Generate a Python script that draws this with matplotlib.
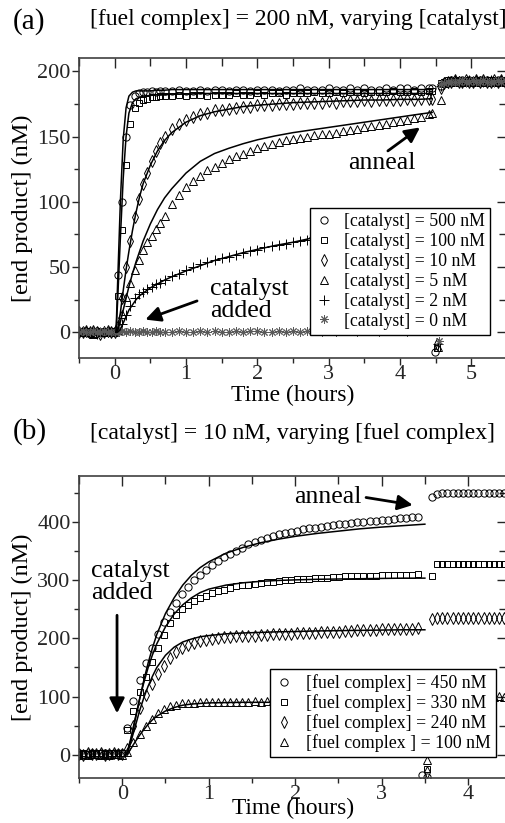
import matplotlib
matplotlib.use("Agg")
import matplotlib.pyplot as plt
from matplotlib.ticker import MultipleLocator, NullFormatter

plt.rcParams['font.family'] = ['Liberation Serif', 'DejaVu Serif']

# ---------------- panel (a): [fuel complex] = 200 nM ----------------
t_a = [-0.5, -0.45, -0.4, -0.35, -0.3, -0.25, -0.2, -0.15, -0.1, -0.05, 0.0,
       0.04, 0.1, 0.16, 0.22, 0.28, 0.34, 0.4, 0.46, 0.52, 0.58, 0.64, 0.7,
       0.8, 0.9, 1.0, 1.1, 1.2, 1.3, 1.4, 1.5, 1.6, 1.7, 1.8, 1.9, 2.0, 2.1, 2.2,
       2.3, 2.4, 2.5, 2.6, 2.7, 2.8, 2.9, 3.0, 3.1, 3.2, 3.3, 3.4, 3.5, 3.6, 3.7,
       3.8, 3.9, 4.0, 4.1, 4.2, 4.3, 4.4, 4.45]

cat500 = [0, 1, 0, -1, 0, 1, 0, 0, 1, 0, 1,
          44, 100, 150, 174, 181, 183, 184, 184, 185, 184, 185, 185,
          185, 186, 185, 185, 186, 185, 186, 186, 185, 186, 186, 185, 186, 186, 186,
          185, 186, 186, 187, 186, 186, 186, 187, 186, 186, 187, 186, 187, 186, 186,
          187, 186, 187, 187, 186, 187, 187, 187]
cat100 = [1, 0, 0, 1, -1, 0, 1, 0, 0, 1, 0,
          28, 78, 128, 160, 172, 176, 178, 179, 180, 180, 181, 181,
          181, 182, 181, 182, 182, 181, 182, 182, 182, 183, 182, 182, 183, 182, 183,
          183, 182, 183, 183, 183, 184, 183, 183, 184, 183, 184, 184, 183, 184, 184,
          184, 185, 184, 184, 185, 184, 185, 185]
cat10 = [0, 0, 1, 0, 1, 0, -1, 0, 1, 0, 0,
         5, 26, 50, 70, 88, 102, 114, 122, 131, 139, 145, 150,
         156, 160, 163, 165, 167, 168, 170, 170, 171, 172, 173, 173, 174, 174, 174,
         175, 175, 175, 176, 176, 176, 176, 177, 176, 177, 177, 177, 178, 177, 178,
         178, 178, 178, 179, 178, 179, 179, 179]
cat5 = [0, 1, 0, 0, -1, 1, 0, 0, 0, 1, 0,
        2, 14, 27, 38, 48, 55, 63, 69, 74, 79, 84, 89,
        98, 105, 111, 116, 120, 124, 127, 130, 133, 135, 137, 139, 141, 143, 144,
        146, 147, 148, 149, 150, 151, 152, 152, 153, 154, 155, 156, 157, 158, 159,
        160, 161, 162, 163, 164, 165, 167, 168]
cat2 = [0, 0, 1, 0, 0, -1, 0, 1, 0, 0, 1,
        1, 6, 13, 20, 26, 29, 31, 33, 35, 37, 38, 40,
        43, 45, 48, 50, 52, 54, 55, 57, 58, 59, 61, 62, 63, 65, 66,
        67, 68, 69, 70, 71, 73, 74, 75, 76, 76, 77, 78, 79, 80, 80,
        81, 82, 82, 83, 84, 84, 85, 85]
cat0 = [0, 1, 0, 0, 1, 0, 0, 1, 0, 0, 0,
        0, 1, 0, 1, 0, 0, 1, 0, 0, 1, 0, 0,
        0, 1, 0, 0, 1, 0, 1, 0, 0, 1, 0, 1, 1, 0, 0,
        1, 0, 1, 0, 1, 1, 0, 1, 0, 1, 1, 0, 1, 1, 0,
        1, 1, 1, 0, 1, 1, 1, 1]

# points recorded during the anneal (off scale) and after the anneal
gap_t_a = [4.49, 4.52, 4.52, 4.53, 4.53, 4.54]
gap_y_a = [-15, -12, -9, -11, -9, -7]
post_t_a = [4.57, 4.62, 4.67, 4.72, 4.77, 4.82, 4.87, 4.92, 4.97, 5.02,
            5.07, 5.12, 5.17, 5.22, 5.27, 5.32, 5.37, 5.42, 5.47]
post500 = [189, 192, 192, 193, 192, 192, 193, 192, 193, 192, 192, 193, 192, 193, 192, 192, 193, 192, 192]
post100 = [191, 192, 193, 192, 192, 193, 192, 192, 193, 192, 193, 192, 192, 193, 192, 193, 192, 192, 193]
post10 = [187, 191, 192, 192, 193, 192, 192, 193, 192, 192, 193, 192, 193, 192, 192, 193, 192, 193, 192]
post5 = [178, 191, 192, 192, 192, 193, 192, 192, 193, 192, 192, 192, 193, 192, 193, 192, 192, 193, 192]
post2 = [189, 192, 191, 192, 193, 192, 192, 192, 193, 192, 193, 192, 192, 192, 193, 192, 192, 193, 192]
post0 = [190, 191, 192, 192, 192, 192, 193, 192, 192, 193, 192, 192, 193, 192, 192, 192, 193, 192, 193]

# model fits
fit_t_a = [0.02, 0.04, 0.08, 0.12, 0.16, 0.2, 0.25, 0.3, 0.35, 0.4, 0.5, 0.6, 0.7, 0.8,
           1.0, 1.2, 1.4, 1.6, 1.8, 2.0, 2.25, 2.5, 2.75, 3.0, 3.25, 3.5, 3.75, 4.0, 4.25, 4.45]
fit500 = [0, 35, 100, 148, 172, 181, 184, 185, 185, 185, 185, 185.5, 185.5, 186,
          186, 186, 186, 186, 186, 186, 186, 186, 186, 186, 186, 186, 186, 186, 186, 186]
fit100 = [0, 22, 72, 118, 150, 168, 176, 179, 180, 181, 181.5, 182, 182, 182.5,
          182.5, 183, 183, 183, 183, 183, 183, 183, 183, 183, 183, 183, 183, 183, 183, 183]
fit10 = [0, 2, 15, 32, 48, 62, 78, 92, 104, 114, 128, 139, 147, 153,
         161, 166, 169, 171, 173, 174, 175, 176, 176.5, 177, 177.5, 178, 178, 178.5, 178.5, 179]
fit5 = [0, 1, 8, 17, 26, 35, 45, 54, 62, 70, 83, 94, 103, 110,
        122, 131, 137, 141, 144.5, 147.5, 150.5, 153, 155, 157, 159, 161, 163, 165, 167, 168.5]
fit2 = [0, 0, 2, 7, 12, 17, 21, 25, 28, 30, 34, 37, 40, 42.5,
        47, 51, 55, 58, 61, 63.5, 66.5, 69, 72, 74.5, 77, 79, 81, 83, 84.5, 86]

labels_a = ["[catalyst] = 500 nM", "[catalyst] = 100 nM", "[catalyst] = 10 nM",
            "[catalyst] = 5 nM", "[catalyst] = 2 nM", "[catalyst] = 0 nM"]

# ---------------- panel (b): [catalyst] = 10 nM ----------------
t_b = [-0.5, -0.45, -0.4, -0.35, -0.3, -0.25, -0.2, -0.15, -0.1, -0.05, 0.0,
       0.06, 0.13, 0.2, 0.27, 0.34, 0.41, 0.48, 0.55, 0.62, 0.69, 0.76, 0.83, 0.9,
       0.97, 1.04, 1.11, 1.18, 1.25, 1.32, 1.39, 1.46, 1.53, 1.6, 1.67, 1.74, 1.81,
       1.88, 1.95, 2.02, 2.09, 2.16, 2.23, 2.3, 2.37, 2.44, 2.51, 2.58, 2.65, 2.72,
       2.79, 2.86, 2.93, 3.0, 3.07, 3.14, 3.21, 3.28, 3.35, 3.42]

fuel450 = [2, 1, 2, 3, 1, 2, 2, 1, 3, 2, 2,
           45, 92, 129, 157, 184, 207, 228, 246, 262, 276, 289, 300, 310,
           318, 327, 334, 340, 346, 351, 356, 362, 366, 370, 374, 377, 380,
           382, 384, 386, 388, 390, 391, 393, 394, 396, 397, 398, 399, 400,
           401, 402, 403, 404, 405, 406, 407, 408, 409, 410]
fuel330 = [1, 2, 1, 2, 3, 2, 1, 2, 2, 3, 2,
           42, 75, 108, 134, 160, 184, 206, 226, 240, 250, 258, 264, 269,
           274, 278, 281, 284, 287, 290, 292, 293, 294, 296, 297, 298, 299,
           300, 301, 302, 302, 303, 304, 304, 305, 306, 306, 307, 307, 307,
           308, 308, 308, 309, 309, 309, 310, 310, 310, 311]
fuel240 = [1, 0, 2, 1, 1, 2, 0, 1, 2, 1, 1,
           10, 50, 80, 103, 121, 139, 153, 166, 176, 183, 189, 192, 195,
           197, 199, 200, 202, 203, 204, 204, 205, 205, 206, 206, 207, 207,
           208, 208, 209, 209, 210, 210, 211, 211, 212, 212, 213, 213, 214,
           214, 215, 215, 216, 216, 216, 217, 217, 217, 218]
fuel100 = [0, 1, 0, 1, 1, 0, 1, 0, 1, 1, 0,
           5, 22, 36, 50, 62, 72, 79, 84, 86, 88, 89, 89, 90,
           90, 90, 91, 90, 91, 91, 91, 91, 92, 91, 92, 92, 92,
           92, 92, 93, 92, 92, 93, 92, 93, 93, 92, 93, 93, 93,
           92, 93, 93, 93, 93, 92, 93, 93, 93, 93]

gap_t_b = [[3.47, 3.53], [3.53], [3.53], [3.53]]
gap_y_b = [[-36, -39], [-25], [-30], [-10]]
post_t_b = [3.58, 3.64, 3.7, 3.76, 3.82, 3.88, 3.94, 4.0, 4.06, 4.12, 4.18, 4.24, 4.3, 4.36, 4.42, 4.48]
post450 = [444, 449, 450, 450, 451, 450, 450, 451, 450, 451, 450, 450, 451, 450, 450, 451]
post330 = [308, 328, 329, 328, 328, 329, 328, 329, 328, 329, 328, 328, 329, 328, 329, 328]
post240 = [233, 235, 236, 235, 235, 236, 235, 235, 236, 235, 235, 236, 235, 235, 236, 235]
post100b = [97, 99, 100, 100, 99, 100, 100, 101, 100, 100, 101, 100, 100, 101, 100, 100]

fit_t_b = [0.05, 0.1, 0.15, 0.2, 0.25, 0.3, 0.35, 0.4, 0.5, 0.6, 0.7, 0.8, 0.9, 1.0,
           1.2, 1.4, 1.6, 1.8, 2.0, 2.25, 2.5, 2.75, 3.0, 3.25, 3.5]
fit450 = [0, 25, 60, 95, 128, 158, 184, 207, 243, 270, 292, 309, 322, 332,
          347, 357, 365, 371, 376, 381, 385, 389, 392, 394.5, 397]
fit330 = [0, 28, 62, 95, 124, 150, 172, 191, 220, 242, 258, 270, 279, 285,
          292, 296, 298.5, 300, 301, 302, 302.5, 303, 303.5, 304, 304]
fit240 = [0, 22, 48, 75, 98, 118, 135, 150, 171, 185, 194, 199, 203, 205,
          208, 209.5, 210.5, 211.5, 212, 213, 213.5, 214, 214.5, 215, 215]
fit100b = [0, 10, 22, 33, 43, 52, 60, 66, 75, 81, 85, 87, 88, 89,
           89.5, 90, 90, 90, 90, 90, 90, 90, 90, 90, 90]

labels_b = ["[fuel complex] = 450 nM", "[fuel complex] = 330 nM",
            "[fuel complex] = 240 nM", "[fuel complex ] = 100 nM"]

# marker, size, colour
styles = [('o', 5.2, 'k'), ('s', 4.6, 'k'), ('d', 5.8, 'k'),
          ('^', 5.2, 'k'), ('+', 6.5, 'k'), ((8, 2, 0), 6.0, '0.35')]


def frame(ax, xlim, ylim, ymaj, ymin, xlab_y, xlab_size):
    ax.set_xlim(*xlim)
    ax.set_ylim(*ylim)
    ax.xaxis.set_major_locator(MultipleLocator(1))
    ax.xaxis.set_minor_locator(MultipleLocator(0.5))
    ax.yaxis.set_major_locator(MultipleLocator(ymaj))
    ax.yaxis.set_minor_locator(MultipleLocator(ymin))
    ax.tick_params(which='major', direction='out', length=5, width=1,
                   labelsize=16, pad=1, colors='0.15')
    ax.tick_params(axis='x', which='major', pad=0)
    ax.tick_params(which='minor', direction='out', length=3.5, width=1, colors='0.15')
    for s in ax.spines.values():
        s.set_linewidth(1.2)
        s.set_color('0.25')
    # inward ticks on top and right
    top = ax.secondary_xaxis('top')
    top.xaxis.set_major_locator(MultipleLocator(1))
    top.xaxis.set_minor_locator(MultipleLocator(0.5))
    top.xaxis.set_major_formatter(NullFormatter())
    top.tick_params(which='major', direction='in', length=7, width=1, colors='0.15')
    top.tick_params(which='minor', direction='in', length=6, width=1, colors='0.15')
    top.spines['top'].set_visible(False)
    right = ax.secondary_yaxis('right')
    right.yaxis.set_major_locator(MultipleLocator(ymaj))
    right.yaxis.set_minor_locator(MultipleLocator(ymin))
    right.yaxis.set_major_formatter(NullFormatter())
    right.tick_params(which='major', direction='in', length=7, width=1, colors='0.15')
    right.tick_params(which='minor', direction='in', length=6, width=1, colors='0.15')
    ax.set_xlabel("Time (hours)", fontsize=xlab_size)
    ax.set_ylabel("[end product] (nM)", fontsize=17.5)
    ax.xaxis.set_label_coords(0.5, xlab_y)
    ax.yaxis.set_label_coords(-0.107, 0.5)


def arrow(ax, tail, tip):
    ax.annotate('', xy=tip, xytext=tail,
                arrowprops=dict(arrowstyle='-|>,head_length=0.6,head_width=0.3',
                                mutation_scale=15, lw=2, color='k',
                                shrinkA=0, shrinkB=0))


fig = plt.figure(figsize=(5.05, 8.23), dpi=100)
ax1 = fig.add_axes([0.1564, 0.5646, 0.8476, 0.3646])
ax2 = fig.add_axes([0.1564, 0.0550, 0.8476, 0.3666])

# ---- panel (a)
series_a = [cat500, cat100, cat10, cat5, cat2, cat0]
posts_a = [post500, post100, post10, post5, post2, post0]
handles = []
for i, (y, post) in enumerate(zip(series_a, posts_a)):
    m, ms, c = styles[i]
    kw = dict(ls='none', marker=m, ms=ms, mfc='none', mec=c, mew=0.7)
    h, = ax1.plot(t_a, y, **kw)
    ax1.plot([gap_t_a[i]], [gap_y_a[i]], **kw)
    ax1.plot(post_t_a, post, **kw)
    handles.append(h)
for f in [fit500, fit100, fit10, fit5, fit2]:
    ax1.plot(fit_t_a, f, color='k', lw=1.1)

frame(ax1, (-0.5, 5.5), (-20, 210), 50, 25, -0.088, 17)
leg = ax1.legend(handles, labels_a, loc='lower right', bbox_to_anchor=(0.960, 0.078),
                 fontsize=12.8, frameon=True, fancybox=False, framealpha=1,
                 edgecolor='k', numpoints=1, handlelength=1.0, handletextpad=0.6,
                 borderpad=0.3, labelspacing=0.16, borderaxespad=0)
leg.get_frame().set_linewidth(1.0)
leg.set_zorder(5)

ax1.text(3.75, 130, "anneal", fontsize=18.5, ha='center', va='center')
arrow(ax1, (3.83, 139), (4.28, 157))
ax1.text(1.34, 25, "catalyst\nadded", fontsize=18.5, ha='left', va='center', linespacing=1.0)
arrow(ax1, (1.155, 24), (0.43, 9.7))

fig.text(13 / 505, 1 - 22 / 823, "(a)", fontsize=21, ha='left', va='center')
fig.text(90 / 505, 1 - 20 / 823, "[fuel complex] = 200 nM, varying [catalyst]",
         fontsize=17, ha='left', va='center')

# ---- panel (b)
series_b = [fuel450, fuel330, fuel240, fuel100]
posts_b = [post450, post330, post240, post100b]
handles = []
for i, (y, post) in enumerate(zip(series_b, posts_b)):
    m, ms, c = styles[i]
    kw = dict(ls='none', marker=m, ms=ms, mfc='none', mec=c, mew=0.7)
    h, = ax2.plot(t_b, y, **kw)
    ax2.plot(gap_t_b[i], gap_y_b[i], **kw)
    ax2.plot(post_t_b, post, **kw)
    handles.append(h)
for f in [fit450, fit330, fit240, fit100b]:
    ax2.plot(fit_t_b, f, color='k', lw=1.1)

frame(ax2, (-0.5, 4.45), (-40, 480), 100, 50, -0.068, 16.8)
leg = ax2.legend(handles, labels_b, loc='lower right', bbox_to_anchor=(0.974, 0.068),
                 fontsize=12.8, frameon=True, fancybox=False, framealpha=1,
                 edgecolor='k', numpoints=1, handlelength=1.0, handletextpad=0.7,
                 borderpad=0.3, labelspacing=0.12, borderaxespad=0)
leg.get_frame().set_linewidth(1.0)
leg.set_zorder(5)

ax2.text(2.38, 443, "anneal", fontsize=18.5, ha='center', va='center')
arrow(ax2, (2.82, 443), (3.36, 430))
ax2.text(-0.36, 297, "catalyst\nadded", fontsize=18.5, ha='left', va='center', linespacing=1.0)
arrow(ax2, (-0.06, 240), (-0.06, 71))

fig.text(13 / 505, 1 - 432 / 823, "(b)", fontsize=21, ha='left', va='center')
fig.text(90 / 505, 1 - 433 / 823, "[catalyst] = 10 nM, varying [fuel complex]",
         fontsize=17, ha='left', va='center')

fig.savefig("out.png", dpi=100)
